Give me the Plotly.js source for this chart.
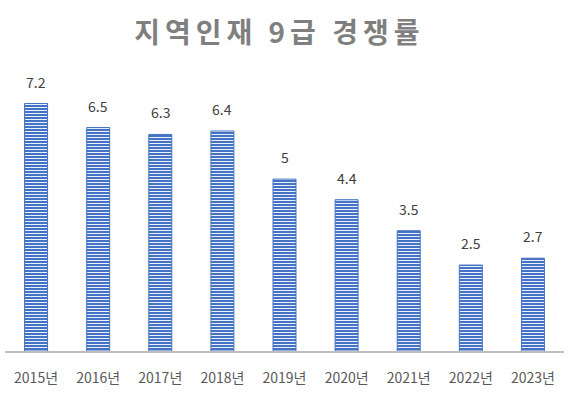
<!DOCTYPE html>
<html><head><meta charset="utf-8">
<script src="https://cdn.plot.ly/plotly-3.0.1.min.js"></script>
<style>body{margin:0;background:#fff}#chart{width:570px;height:395px}
#chart .gtitle{letter-spacing:5px}</style>
</head><body><div id="chart"></div>
<script>
const categories = ["2015년","2016년","2017년","2018년","2019년","2020년","2021년","2022년","2023년"];
const values = [7.2, 6.5, 6.3, 6.4, 5, 4.4, 3.5, 2.5, 2.7];
const labels = ["7.2","6.5","6.3","6.4","5","4.4","3.5","2.5","2.7"];
const font = '"Noto Sans CJK KR", "Noto Sans", sans-serif';
const annotations = categories.map((c, i) => ({
  x: c, y: values[i], text: labels[i], showarrow: false, yanchor: 'bottom', yshift: 10,
  font: {family: font, size: 14, color: '#404040'}
}));
Plotly.newPlot('chart', [{
  type: 'bar', x: categories, y: values,
  marker: {color: '#4472C4', line: {color: '#4472C4', width: 1},
    pattern: {shape: '-', bgcolor: '#4472C4', fgcolor: '#ffffff', size: 3, solidity: 0.3}},
  width: 0.37, hoverinfo: 'none'
}], {
  width: 570, height: 395,
  margin: {l: 5, r: 6, t: 76, b: 44},
  paper_bgcolor: '#fff', plot_bgcolor: '#fff',
  title: {text: '<b>지역인재 9급 경쟁률</b>', x: 0.49, xanchor: 'center', y: 0.915, yanchor: 'middle',
    font: {family: font, size: 28, color: '#7f7f7f'}},
  xaxis: {showline: true, linecolor: '#bfbfbf', linewidth: 2, ticks: '', showgrid: false,
    ticklabelstandoff: 13,
    tickfont: {family: font, size: 14, color: '#595959'}},
  yaxis: {range: [0, 8], visible: false, showgrid: false, zeroline: false},
  annotations: annotations,
  showlegend: false, bargap: 0.63
}, {displayModeBar: false, staticPlot: true});
</script></body></html>
